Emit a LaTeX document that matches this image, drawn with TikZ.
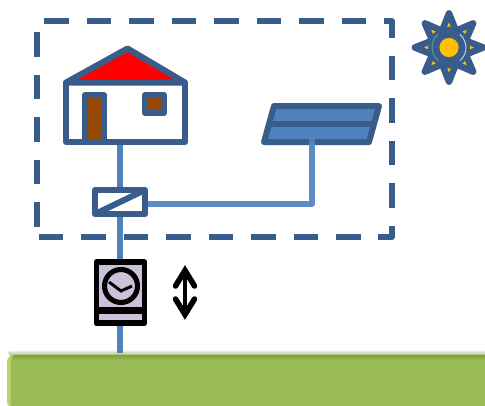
\documentclass[tikz,border=0pt]{standalone}
\definecolor{navy}{HTML}{385D8A}
\definecolor{wire}{HTML}{4F81BD}
\definecolor{brownfill}{HTML}{984807}
\definecolor{meterfill}{HTML}{CCC1DA}
\definecolor{grass}{HTML}{9BBB59}
\definecolor{grasslight}{HTML}{B7D56C}
\definecolor{grassdark}{HTML}{7F9C42}
\definecolor{sunfill}{HTML}{FFC000}
\tikzset{
  outline/.style={draw=navy,line width=4.5pt,line join=round},
  wireline/.style={draw=wire,line width=4pt},
  meterline/.style={draw=black,line width=4.4pt,line join=round},
  boxnode/.style={rectangle,inner sep=0pt,outer sep=0pt},
  boundary/.style={draw=navy,line width=4.5pt,line join=round,dash pattern=on 18.45pt off 13.4pt},
  chevron/.style={draw=black,line width=4.2pt,line join=miter,line cap=round},
}
\begin{document}
\begin{tikzpicture}[x=0.75pt,y=-0.75pt]
\useasboundingbox (0,0) rectangle (485,405);
\clip (0,0) rectangle (485,405);
% grid strip
\shade[top color=white,bottom color=black!35,rounded corners=3pt] (8,349.5) rectangle (500,356);
\fill[grasslight,rounded corners=6pt] (7,354) rectangle (500,409);
\fill[grass,rounded corners=5pt] (10.5,355) rectangle (500,409);
\shade[top color=grassdark,bottom color=grass,rounded corners=2pt] (12,355) rectangle (500,360);
\node[boxnode,minimum width=37.5pt,minimum height=18pt] (switch) at (120,202) {};
\node[boxnode,minimum width=36pt,minimum height=46pt] (meter) at (120.5,292.75) {};
\coordinate (houseFoot) at (120,142);
\coordinate (gridTop) at (120,353);
\coordinate (panelFoot) at (312,127);
\coordinate (wireBend) at (312,204);
% dashed boundary
\draw[boundary] (44.3,21.3) -- (392,21.3) -- (392,236.7) -- (36.7,236.7);
\draw[boundary] (36.7,226.7) -- (36.7,32);
% wires
\draw[wireline] (houseFoot) -- (switch.north -| houseFoot);
\draw[wireline] (switch.south -| gridTop) -- (meter.north -| gridTop);
\draw[wire,line width=5pt] (meter.south -| gridTop) -- (gridTop);
% house
\fill[white] (66,82.5) rectangle (185,142);
\draw[outline,fill=red] (66,82.5) -- (127.5,48.5) -- (185,82.5) -- cycle;
\draw[outline] (66,82.5) -- (66,142) -- (185,142) -- (185,82.5);
\draw[outline,fill=brownfill] (85,95) rectangle (104,142);
\draw[outline,fill=brownfill] (145,95) rectangle (164,113);
% panel
\coordinate (pTL) at (274,106); \coordinate (pTR) at (379,106);
\coordinate (pBR) at (369,142); \coordinate (pBL) at (264,142);
\draw[outline,fill=wire] (pTL) -- (pTR) -- (pBR) -- (pBL) -- cycle;
\draw[navy,line width=4.5pt] (269,124) -- (374,124);
% panel wire
\draw[wireline,line join=round,opacity=.92] (panelFoot) -- (wireBend) -- (switch.east |- wireBend);
% switch
\draw[outline,fill=white] (switch.south west) rectangle (switch.north east);
\draw[outline] (switch.south west) -- (switch.north east);
% meter
\draw[meterline,fill=meterfill] (meter.south west) rectangle (meter.north east);
\draw[black,line width=5pt] (96.5,310.5) -- (144.5,310.5);
\draw[black,line width=3.8pt] (121,286) circle [radius=16.5*0.75pt];
\draw[black,line width=2.2pt,line join=miter] (109,282) -- (121,291) -- (132,286);
% double arrow
\draw[chevron] (175.5,286) -- (185,270.5) -- (194.5,286);
\draw[chevron] (175.5,299) -- (185,314.5) -- (194.5,299);
\draw[black,line width=3pt] (185,270) -- (185,315);
% sun
\begin{scope}[shift={(449,47.5)}]
  \foreach \a in {0,45,...,315}
    \filldraw[fill=navy,draw=navy,line width=5pt,line join=round] (\a-22.5:18) -- (\a:34) -- (\a+22.5:18) -- cycle;
  \fill[navy] (0,0) circle [radius=15pt];
  \draw[white,opacity=.75,line width=.7pt] (-50:17) arc (-50:50:17);
  \draw[white,opacity=.3,line width=.7pt] (130:17) arc (130:230:17);
  \foreach \a in {0,45,...,315}
    \fill[sunfill] (\a:25) -- (\a+5:21) -- (\a-5:21) -- cycle;
  \fill[sunfill] (0,0) circle [radius=7.2pt];
\end{scope}
\end{tikzpicture}
\end{document}
